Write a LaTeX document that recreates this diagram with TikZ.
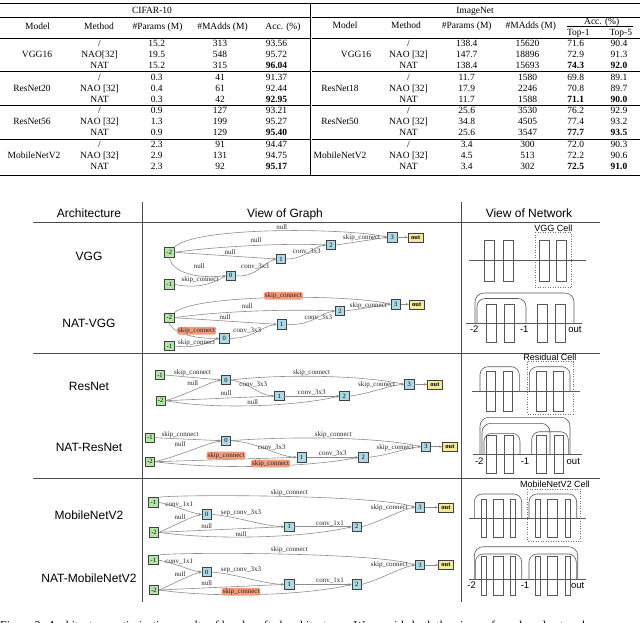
\documentclass[tikz,border=0pt]{standalone}
\usepackage{fontspec}
\setmainfont{Liberation Serif}
\setsansfont{Liberation Sans}
\usetikzlibrary{arrows.meta}
\definecolor{ngreen}{HTML}{B3E6A6}
\definecolor{nblue}{HTML}{ADD8E6}
\definecolor{nyel}{HTML}{F3E99A}
\definecolor{norange}{HTML}{F39C7A}
\newcommand{\TabL}[6]{%
  \node[tt] (L#1m) at (99.5,#2) {#3};
  \node[tt] (L#1p) at (156.7,#2) {#4};
  \node[tt] (L#1d) at (220,#2) {#5};
  \node[tt] (L#1a) at (276.5,#2) {#6};}
\newcommand{\TabR}[7]{%
  \node[tt] (R#1m) at (408.5,#2) {#3};
  \node[tt] (R#1p) at (466.7,#2) {#4};
  \node[tt] (R#1d) at (527.5,#2) {#5};
  \node[tt] (R#1a) at (575.8,#2) {#6};
  \node[tt] (R#1b) at (619,#2) {#7};}
\begin{document}
\begin{tikzpicture}[x=1pt,y=-1pt,
  tt/.style={font=\fontsize{9.5}{10}\selectfont, inner sep=0pt, text height=6.4pt, text depth=0pt},
  hd/.style={font=\sffamily\fontsize{12}{13}\selectfont, inner sep=0pt, text height=8.6pt, text depth=0pt},
  nl/.style={font=\sffamily\fontsize{9.5}{10}\selectfont, inner sep=0pt, text height=6.8pt, text depth=0pt},
  cl/.style={font=\sffamily\fontsize{9}{10}\selectfont, inner sep=0pt, text height=6.5pt, text depth=0pt},
  gn/.style={draw=black!75, line width=0.6pt, minimum width=9.5pt, minimum height=9.5pt, inner sep=0pt, font=\fontsize{6.5}{7}\selectfont},
  gg/.style={gn, fill=ngreen},
  gb/.style={gn, fill=nblue},
  go/.style={gn, fill=nyel, minimum width=15pt, minimum height=9pt, font=\bfseries\fontsize{6.5}{7}\selectfont},
  el/.style={font=\fontsize{7}{8}\selectfont, inner sep=0pt, text height=4.8pt, text depth=0pt, text=black!85},
  ol/.style={el, fill=norange, rounded corners=1.5pt, inner xsep=1pt, inner ysep=0.8pt, text depth=1.2pt},
  edge/.style={draw=black!45, line width=0.6pt, -{Stealth[length=3pt,width=2.4pt]}},
  frame/.style={draw=black!70, line width=0.8pt},
  nv/.style={draw=black!65, line width=0.6pt},
  cell/.style={draw=black!55, line width=0.5pt, dotted}]
\useasboundingbox (0,0) rectangle (640,622);

% ================= TABLE =================
\draw[line width=1pt] (0,3) -- (640,3);
\draw[line width=1pt] (0,175) -- (640,175);
\draw[line width=0.5pt] (310.7,3) -- (310.7,175);
\foreach \yy in {17.5,38.7,71.7,105.7,139.7}{
  \draw[line width=0.5pt] (0,\yy) -- (310,\yy);
  \draw[line width=0.5pt] (311.5,\yy) -- (640,\yy);}
\draw[line width=0.5pt] (567,26.7) -- (633,26.7);

\node[tt] (cifar) at (152,10) {CIFAR-10};
\node[tt] (imnet) at (475,10) {ImageNet};
\node[tt] (hLmodel) at (37.5,26.7) {Model};
\node[tt] (hLmeth) at (99,26.7) {Method};
\node[tt] (hLpar) at (157.5,26.7) {\#Params (M)};
\node[tt] (hLmad) at (222.5,26.7) {\#MAdds (M)};
\node[tt] (hLacc) at (283,26.7) {Acc. (\%)};
\node[tt] (hRmodel) at (345,25.5) {Model};
\node[tt] (hRmeth) at (406,25.5) {Method};
\node[tt] (hRpar) at (466.7,25.5) {\#Params (M)};
\node[tt] (hRmad) at (530.8,25.5) {\#MAdds (M)};
\node[tt] (hRacc) at (601.7,21.5) {Acc. (\%)};
\node[tt] (hRt1) at (578.3,32.3) {Top-1};
\node[tt] (hRt5) at (620.8,32.3) {Top-5};

\node[tt] (Lvgg) at (37,54) {VGG16};
\node[tt] (Lr20) at (32,88) {ResNet20};
\node[tt] (Lr56) at (32,121.5) {ResNet56};
\node[tt] (Lmob) at (34,155.5) {MobileNetV2};
\TabL{a}{43}{/}{15.2}{313}{93.56}
\TabL{b}{54}{NAO[32]}{19.5}{548}{95.72}
\TabL{c}{65}{NAT}{15.2}{315}{\textbf{96.04}}
\TabL{d}{77}{/}{0.3}{41}{91.37}
\TabL{e}{88}{NAO [32]}{0.4}{61}{92.44}
\TabL{f}{99}{NAT}{0.3}{42}{\textbf{92.95}}
\TabL{g}{110.7}{/}{0.9}{127}{93.21}
\TabL{h}{121.5}{NAO [32]}{1.3}{199}{95.27}
\TabL{i}{132.3}{NAT}{0.9}{129}{\textbf{95.40}}
\TabL{j}{144.7}{/}{2.3}{91}{94.47}
\TabL{k}{155.5}{NAO [32]}{2.9}{131}{94.75}
\TabL{l}{166.3}{NAT}{2.3}{92}{\textbf{95.17}}

\node[tt] (Rvgg) at (356,54) {VGG16};
\node[tt] (Rr18) at (340,88) {ResNet18};
\node[tt] (Rr50) at (340,121.5) {ResNet50};
\node[tt] (Rmob) at (340,155.5) {MobileNetV2};
\TabR{a}{43}{/}{138.4}{15620}{71.6}{90.4}
\TabR{b}{54}{NAO [32]}{147.7}{18896}{72.9}{91.3}
\TabR{c}{65}{NAT}{138.4}{15693}{\textbf{74.3}}{\textbf{92.0}}
\TabR{d}{77}{/}{11.7}{1580}{69.8}{89.1}
\TabR{e}{88}{NAO [32]}{17.9}{2246}{70.8}{89.7}
\TabR{f}{99}{NAT}{11.7}{1588}{\textbf{71.1}}{\textbf{90.0}}
\TabR{g}{110.7}{/}{25.6}{3530}{76.2}{92.9}
\TabR{h}{121.5}{NAO [32]}{34.8}{4505}{77.4}{93.2}
\TabR{i}{132.3}{NAT}{25.6}{3547}{\textbf{77.7}}{\textbf{93.5}}
\TabR{j}{144.7}{/}{3.4}{300}{72.0}{90.3}
\TabR{k}{155.5}{NAO [32]}{4.5}{513}{72.2}{90.6}
\TabR{l}{166.3}{NAT}{3.4}{302}{\textbf{72.5}}{\textbf{91.0}}

% ================= FIGURE FRAME =================
\draw[frame] (142,202) -- (142,602);
\draw[frame] (461,202) -- (461,602);
\foreach \yy in {222,353,478}{\draw[frame] (33,\yy) -- (600,\yy);}
\node[hd] (hArch) at (89,213) {Architecture};
\node[hd] (hGraph) at (285,213) {View of Graph};
\node[hd] (hNet) at (529,213) {View of Network};
\node[hd] (tVGG) at (89,256) {VGG};
\node[hd] (tNVGG) at (89,323) {NAT-VGG};
\node[hd] (tRes) at (89,386) {ResNet};
\node[hd] (tNRes) at (89,447) {NAT-ResNet};
\node[hd] (tMob) at (89,515) {MobileNetV2};
\node[hd] (tNMob) at (89,578) {NAT-MobileNetV2};

% ================= GRAPH: VGG =================
\node[gg] (am2) at (169.3,252.3) {-2};
\node[gg] (am1) at (169.3,284.3) {-1};
\node[gb] (a0) at (230.7,275.7) {0};
\node[gb] (a1) at (281,259) {1};
\node[gb] (a2) at (331,245) {2};
\node[gb] (a3) at (392.3,237.3) {3};
\node[go] (aout) at (415.7,237.3) {out};
\draw[edge] (am2.north east) .. controls (195,226) and (350,228) .. (a3.west);
\draw[edge] (am2.east) .. controls (220,246) and (290,243) .. (a2.west);
\draw[edge] (am2.east) -- (a1.west);
\draw[edge] (am2.south) .. controls (172,272) and (195,279) .. (a0.west);
\draw[edge] (am1.east) .. controls (197,289) and (212,284) .. (a0.west);
\draw[edge] (a0.east) .. controls (255,278) and (265,262) .. (a1.west);
\draw[edge] (a1.east) .. controls (305,259) and (312,247) .. (a2.west);
\draw[edge] (a2.east) -- (a3.west);
\draw[edge] (a3) -- (aout);
\node[el] (al1) at (281.7,227.3) {null};
\node[el] (al2) at (256,240.5) {null};
\node[el] (al3) at (230,252.5) {null};
\node[el] (al4) at (199.3,266.5) {null};
\node[el] (al5) at (200,279.5) {skip\_connect};
\node[el] (al6) at (255,266.5) {conv\_3x3};
\node[el] (al7) at (306.7,251.5) {conv\_3x3};
\node[el] (al8) at (361.7,237.5) {skip\_connect};

% ================= GRAPH: NAT-VGG =================
\node[gg] (bm2) at (169.3,317.7) {-2};
\node[gg] (bm1) at (169.3,346) {-1};
\node[gb] (b0) at (224.3,338.3) {0};
\node[gb] (b1) at (281.7,324.3) {1};
\node[gb] (b2) at (340,311) {2};
\node[gb] (b3) at (395.7,304.3) {3};
\node[go] (bout) at (416.7,304.3) {out};
\draw[edge] (bm2.north east) .. controls (195,294) and (350,294) .. (b3.west);
\draw[edge] (bm2.east) .. controls (220,311) and (290,309) .. (b2.west);
\draw[edge] (bm2.east) -- (b1.west);
\draw[edge] (bm2.south) .. controls (171,332) and (192,339) .. (b0.west);
\draw[edge] (bm1.east) .. controls (200,349) and (210,341) .. (b0.west);
\draw[edge] (b0.east) .. controls (252,339) and (262,326) .. (b1.west);
\draw[edge] (b1.east) .. controls (312,326) and (320,313) .. (b2.west);
\draw[edge] (b2.east) -- (b3.west);
\draw[edge] (b3) -- (bout);
\node[ol] (bl1) at (283.3,295.7) {skip\_connect};
\node[el] (bl2) at (247.3,306.3) {null};
\node[el] (bl3) at (225,317) {null};
\node[ol] (bl4) at (196.7,330.7) {skip\_connect};
\node[el] (bl5) at (196.7,341.7) {skip\_connect};
\node[el] (bl6) at (247.3,330.3) {conv\_3x3};
\node[el] (bl7) at (318.3,316.7) {conv\_3x3};
\node[el] (bl8) at (368.3,305) {skip\_connect};

% ================= GRAPH: ResNet =================
\node[gg] (cm1) at (160,375) {-1};
\node[gg] (cm2) at (160.7,400.7) {-2};
\node[gb] (c0) at (226,380) {0};
\node[gb] (c1) at (279.3,396) {1};
\node[gb] (c2) at (344.3,396) {2};
\node[gb] (c3) at (409.3,384.3) {3};
\node[go] (cout) at (435,384.3) {out};
\draw[edge] (cm1.east) -- (c0.west);
\draw[edge] (cm2.east) .. controls (190,393) and (205,384) .. (c0.west);
\draw[edge] (cm2.east) -- (c1.west);
\draw[edge] (cm2.east) .. controls (215,410) and (300,406) .. (c2.west);
\draw[edge] (c0.east) .. controls (250,383) and (258,395) .. (c1.west);
\draw[edge] (c1.east) -- (c2.west);
\draw[edge] (c0.east) .. controls (280,374) and (360,375) .. (c3.west);
\draw[edge] (c2.east) .. controls (370,394) and (385,386) .. (c3.west);
\draw[edge] (c3) -- (cout);
\node[el] (cl1) at (192.7,372) {skip\_connect};
\node[el] (cl2) at (192.7,383) {null};
\node[el] (cl3) at (226,393) {null};
\node[el] (cl4) at (252.7,402) {null};
\node[el] (cl5) at (253.3,384.5) {conv\_3x3};
\node[el] (cl6) at (311.7,392.3) {conv\_3x3};
\node[el] (cl7) at (311.7,372) {skip\_connect};
\node[el] (cl8) at (376.7,384.5) {skip\_connect};

% ================= GRAPH: NAT-ResNet =================
\node[gg] (dm1) at (150,437.7) {-1};
\node[gg] (dm2) at (150,461.7) {-2};
\node[gb] (d0) at (226,440.7) {0};
\node[gb] (d1) at (301.7,457.3) {1};
\node[gb] (d2) at (363.3,457.3) {2};
\node[gb] (d3) at (426,446.7) {3};
\node[go] (dout) at (450,446.7) {out};
\draw[edge] (dm1.east) -- (d0.west);
\draw[edge] (dm2.east) .. controls (185,454) and (205,444) .. (d0.west);
\draw[edge] (dm2.east) -- (d1.west);
\draw[edge] (dm2.east) .. controls (220,470) and (310,467) .. (d2.west);
\draw[edge] (d0.east) .. controls (262,443) and (275,456) .. (d1.west);
\draw[edge] (d1.east) -- (d2.west);
\draw[edge] (d0.east) .. controls (290,436) and (380,437) .. (d3.west);
\draw[edge] (d2.east) .. controls (390,455) and (405,448) .. (d3.west);
\draw[edge] (d3) -- (dout);
\node[el] (dl1) at (180,434.5) {skip\_connect};
\node[el] (dl2) at (180,444.5) {null};
\node[ol] (dl3) at (226,455.5) {skip\_connect};
\node[ol] (dl4) at (270.7,463.5) {skip\_connect};
\node[el] (dl5) at (271.7,446.7) {conv\_3x3};
\node[el] (dl6) at (332.7,453.5) {conv\_3x3};
\node[el] (dl7) at (333.3,433.8) {skip\_connect};
\node[el] (dl8) at (395,446.7) {skip\_connect};

% ================= GRAPH: MobileNetV2 =================
\node[gg] (em1) at (153.3,502.3) {-1};
\node[gg] (em2) at (154,532.3) {-2};
\node[gb] (e0) at (206.7,514.3) {0};
\node[gb] (e1) at (289.3,526.7) {1};
\node[gb] (e2) at (356.7,526.7) {2};
\node[gb] (e3) at (420,507.3) {3};
\node[go] (eout) at (446,507.3) {out};
\draw[edge] (em1.north east) .. controls (185,494) and (380,495) .. (e3.west);
\draw[edge] (em1.east) .. controls (180,507) and (190,513) .. (e0.west);
\draw[edge] (em2.east) .. controls (178,524) and (190,517) .. (e0.west);
\draw[edge] (em2.east) -- (e1.west);
\draw[edge] (em2.east) .. controls (220,541) and (310,537) .. (e2.west);
\draw[edge] (e0.east) .. controls (240,517) and (262,526) .. (e1.west);
\draw[edge] (e1.east) -- (e2.west);
\draw[edge] (e2.east) .. controls (380,522) and (400,510) .. (e3.west);
\draw[edge] (e3) -- (eout);
\node[el] (el1) at (289.3,492.2) {skip\_connect};
\node[el] (el2) at (179.3,503.8) {conv\_1x1};
\node[el] (el3) at (180,517.2) {null};
\node[el] (el4) at (241,511.8) {sep\_conv\_3x3};
\node[el] (el5) at (206.7,526.2) {null};
\node[el] (el6) at (241,533.8) {null};
\node[el] (el7) at (330,522.8) {conv\_1x1};
\node[el] (el8) at (389.3,507.2) {skip\_connect};

% ================= GRAPH: NAT-MobileNetV2 =================
\node[gg] (fm1) at (153.3,560) {-1};
\node[gg] (fm2) at (154,590) {-2};
\node[gb] (f0) at (206.7,572) {0};
\node[gb] (f1) at (289.3,584.4) {1};
\node[gb] (f2) at (356.7,584.4) {2};
\node[gb] (f3) at (420,565) {3};
\node[go] (fout) at (446,565) {out};
\draw[edge] (fm1.north east) .. controls (185,551.7) and (380,552.7) .. (f3.west);
\draw[edge] (fm1.east) .. controls (180,564.7) and (190,570.7) .. (f0.west);
\draw[edge] (fm2.east) .. controls (178,581.7) and (190,574.7) .. (f0.west);
\draw[edge] (fm2.east) -- (f1.west);
\draw[edge] (fm2.east) .. controls (220,598.7) and (310,594.7) .. (f2.west);
\draw[edge] (f0.east) .. controls (240,574.7) and (262,583.7) .. (f1.west);
\draw[edge] (f1.east) -- (f2.west);
\draw[edge] (f2.east) .. controls (380,579.7) and (400,567.7) .. (f3.west);
\draw[edge] (f3) -- (fout);
\node[el] (fl1) at (289.3,549.5) {skip\_connect};
\node[el] (fl2) at (179.3,561.2) {conv\_1x1};
\node[el] (fl3) at (180,573.8) {null};
\node[el] (fl4) at (241,569.5) {sep\_conv\_3x3};
\node[el] (fl5) at (206.7,582.8) {null};
\node[ol] (fl6) at (241,591.7) {skip\_connect};
\node[el] (fl7) at (330,580.5) {conv\_1x1};
\node[el] (fl8) at (389.3,564.5) {skip\_connect};

% ================= NETWORK VIEWS =================
% VGG
\draw[nv] (469.3,260.7) -- (585.7,260.7);
\foreach \xa/\xb in {484.3/494.3,503.3/513.3,539/549,556.7/566.7}{\draw[nv] (\xa,240) rectangle (\xb,281);}
\draw[cell] (535,232.3) rectangle (571.7,287.3);
\node[cl] (cVGG) at (553.3,228) {VGG Cell};
% NAT-VGG
\draw[nv] (466,323.3) -- (581.7,323.3);
\foreach \xa/\xb in {486/496,504/514,537.7/547.7,555/565}{\draw[nv] (\xa,304) rectangle (\xb,342.7);}
\draw[nv, rounded corners=9pt] (475,323.3) -- (475,293) -- (574,293) -- (574,323.3);
\draw[nv, rounded corners=8pt] (477,323.3) -- (477,298.5) -- (526,298.5) -- (526,323.3);
\node[nl] (nv1a) at (474.3,328.7) {-2};
\node[nl] (nv1b) at (524.3,328.7) {-1};
\node[nl] (nv1c) at (575,328.7) {out};
% ResNet
\draw[nv] (471.7,391.7) -- (580,391.7);
\foreach \xa/\xb in {486/495,503.3/512.7,536.7/546,553.3/563.3}{\draw[nv] (\xa,371.7) rectangle (\xb,411.7);}
\draw[cell] (527.7,361.7) rectangle (573.3,414);
\node[cl] (cRes) at (550,357.3) {Residual Cell};
\draw[nv, rounded corners=8pt] (480,391.7) -- (480,366.7) -- (519.3,366.7) -- (519.3,391.7);
\draw[nv, rounded corners=8pt] (529.3,391.7) -- (529.3,366.7) -- (570,366.7) -- (570,391.7);
% NAT-ResNet
\draw[nv] (472.7,454) -- (581.7,454);
\foreach \xa/\xb in {486.7/496,504/513.3,536.7/546.7,554/563.3}{\draw[nv] (\xa,435) rectangle (\xb,473.3);}
\draw[nv, rounded corners=9pt] (480,454) -- (480,417.3) -- (570,417.3) -- (570,454);
\draw[nv, rounded corners=9pt] (482,454) -- (482,423.3) -- (550,423.3) -- (550,454);
\draw[nv, rounded corners=8pt] (484,454) -- (484,433.3) -- (520,433.3) -- (520,454);
\draw[nv, rounded corners=8pt] (531.7,454) -- (531.7,431.7) -- (568.3,431.7) -- (568.3,454);
\node[nl] (nv2a) at (479.3,461) {-2};
\node[nl] (nv2b) at (525,461) {-1};
\node[nl] (nv2c) at (573.3,461) {out};
% MobileNetV2
\draw[nv] (469.3,518.3) -- (586,518.3);
\foreach \xa/\xb in {481.7/486,493.3/503.3,510.7/515.7,535/540,547.3/557.3,565/570}{\draw[nv] (\xa,499.3) rectangle (\xb,537.7);}
\draw[cell] (527.3,489.3) rectangle (580.7,541);
\node[cl] (cMob) at (555,484) {MobileNetV2 Cell};
\draw[nv, rounded corners=8pt] (474.3,518.3) -- (474.3,494) -- (521.7,494) -- (521.7,518.3);
\draw[nv, rounded corners=8pt] (529,518.3) -- (529,494) -- (576.7,494) -- (576.7,518.3);
% NAT-MobileNetV2
\draw[nv] (469.3,579.3) -- (586,579.3);
\foreach \xa/\xb in {481.7/486,493.3/503.3,510.7/515.7,535/540,547.3/557.3,565/570}{\draw[nv] (\xa,556.7) rectangle (\xb,595);}
\draw[nv, rounded corners=9pt] (474.3,579.3) -- (474.3,546.7) -- (577.7,546.7) -- (577.7,579.3);
\draw[nv, rounded corners=8pt] (475.3,579.3) -- (475.3,554) -- (521.7,554) -- (521.7,579.3);
\draw[nv, rounded corners=8pt] (529,579.3) -- (529,554) -- (576.3,554) -- (576.3,579.3);
\node[nl] (nv3a) at (471.7,585) {-2};
\node[nl] (nv3b) at (525,585) {-1};
\node[nl] (nv3c) at (577.7,585) {out};

% ================= CAPTION (cut off at the bottom edge, as in the reference) =================
\node[anchor=base west, inner sep=0pt, font=\fontsize{12}{13}\selectfont] (caption) at (0,629.5)
  {Figure 2: Architecture optimization results of hand-crafted architectures. We provide both the views of graph and network.};
\end{tikzpicture}
\end{document}
